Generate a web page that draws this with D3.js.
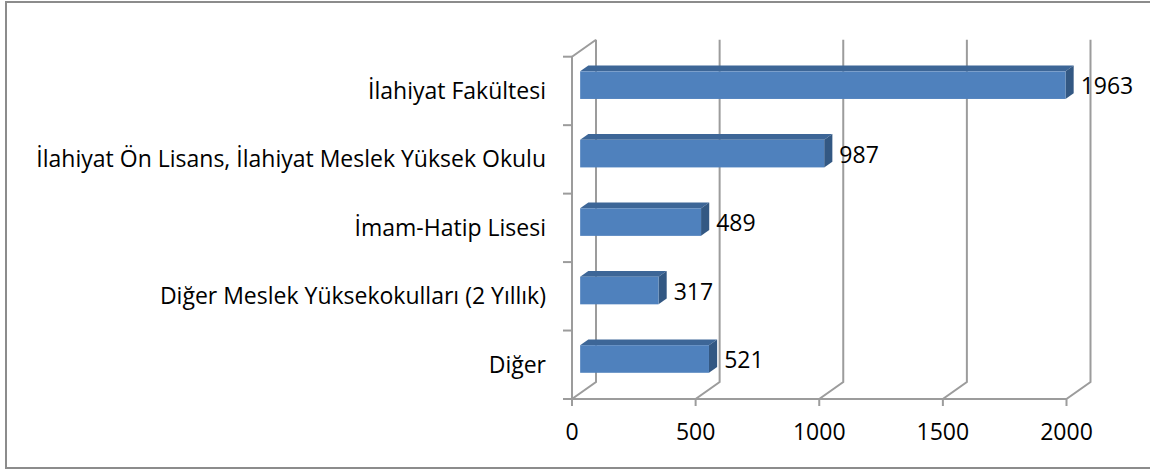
<!doctype html>
<html lang="tr">
<head>
<meta charset="utf-8">
<title>Mezuniyet</title>
<script src="https://cdn.jsdelivr.net/npm/d3@7"></script>
<style>
body { margin: 0; background: #fff; }
text { font-family: "Open Sans", sans-serif; fill: #000; }
</style>
</head>
<body>
<script>

var categories = ["İlahiyat Fakültesi", "İlahiyat Ön Lisans, İlahiyat Meslek Yüksek Okulu", "İmam-Hatip Lisesi", "Diğer Meslek Yüksekokulları (2 Yıllık)", "Diğer"];
var values = [1963, 987, 489, 317, 521];
var ticks = [0, 500, 1000, 1500, 2000];

var width = 1150, height = 470;

// depth of the 3d box and of the bars inside it
var DX = 24, DY = -17;
var z0 = 0.34, z1 = 0.68;
var barHalf = 13.8;

var x = d3.scaleLinear().domain([0, 2000]).range([572, 1066.5]);
var y = d3.scaleBand().domain(categories).range([56.7, 399]).padding(0);

var svg = d3.select("body").append("svg").attr("width", width).attr("height", height);

svg.append("rect")
    .attr("x", 6).attr("y", 2).attr("width", width + 10).attr("height", 466)
    .attr("fill", "#fff").attr("stroke", "#8c8c8c").attr("stroke-width", 2);

var grid = svg.append("g").attr("stroke", "#9c9c9c").attr("stroke-width", 2).attr("fill", "none");

// back wall gridlines + floor diagonals + tick marks
ticks.forEach(function(t) {
    var px = x(t);
    grid.append("path").attr("d", "M" + px + ",406 L" + px + ",399 L" + (px + DX) + "," + (399 + DY) + " L" + (px + DX) + "," + (56.7 + DY));
});

// left wall
grid.append("path").attr("d", "M" + x(0) + ",399 L" + x(0) + ",56.7 L" + (x(0) + DX) + "," + (56.7 + DY));

// front floor edge
grid.append("line").attr("x1", x(0)).attr("x2", x(2000)).attr("y1", 399).attr("y2", 399);

// category tick marks
var bounds = categories.map(function(c) { return y(c); }).concat([399]);
bounds.forEach(function(b) {
    grid.append("line").attr("x1", 563).attr("x2", x(0)).attr("y1", b).attr("y2", b);
});

// bars
var bars = svg.selectAll(".bar").data(values).enter().append("g").attr("class", "bar");

function face(d, i) {
    var yc = y(categories[i]) + y.bandwidth() / 2;
    return {
        x0: x(0) + z0 * DX,
        x1: x(d) + z0 * DX,
        top: yc - barHalf + z0 * DY,
        bot: yc + barHalf + z0 * DY,
        ddx: (z1 - z0) * DX,
        ddy: (z1 - z0) * DY
    };
}

bars.append("path")
    .attr("fill", "#3d6697")
    .attr("d", function(d, i) {
        var f = face(d, i);
        return "M" + f.x0 + "," + f.top + " L" + f.x1 + "," + f.top + " L" + (f.x1 + f.ddx) + "," + (f.top + f.ddy) + " L" + (f.x0 + f.ddx) + "," + (f.top + f.ddy) + "Z";
    });

bars.append("path")
    .attr("fill", "#335883")
    .attr("d", function(d, i) {
        var f = face(d, i);
        return "M" + f.x1 + "," + f.top + " L" + (f.x1 + f.ddx) + "," + (f.top + f.ddy) + " L" + (f.x1 + f.ddx) + "," + (f.bot + f.ddy) + " L" + f.x1 + "," + f.bot + "Z";
    });

bars.append("rect")
    .attr("fill", "#4f81bd")
    .attr("x", function(d, i) { return face(d, i).x0; })
    .attr("y", function(d, i) { return face(d, i).top; })
    .attr("width", function(d, i) { var f = face(d, i); return f.x1 - f.x0; })
    .attr("height", barHalf * 2);

// value labels
bars.append("text")
    .attr("x", function(d, i) { var f = face(d, i); return f.x1 + f.ddx + 7; })
    .attr("y", function(d, i) { var f = face(d, i); return (f.top + f.bot) / 2 + 1; })
    .attr("dy", "0.35em")
    .style("font-size", "23px")
    .text(function(d) { return d; });

// category labels
svg.selectAll(".cat").data(categories).enter().append("text")
    .attr("class", "cat")
    .attr("x", 546)
    .attr("y", function(d) { return y(d) + y.bandwidth() / 2; })
    .attr("dy", "0.35em")
    .attr("text-anchor", "end")
    .style("font-size", "23px")
    .text(function(d) { return d; });

// x tick labels
svg.selectAll(".tick").data(ticks).enter().append("text")
    .attr("class", "tick")
    .attr("x", function(d) { return x(d); })
    .attr("y", 432)
    .attr("dy", "0.35em")
    .attr("text-anchor", "middle")
    .style("font-size", "23px")
    .text(function(d) { return d; });

</script>
</body>
</html>
